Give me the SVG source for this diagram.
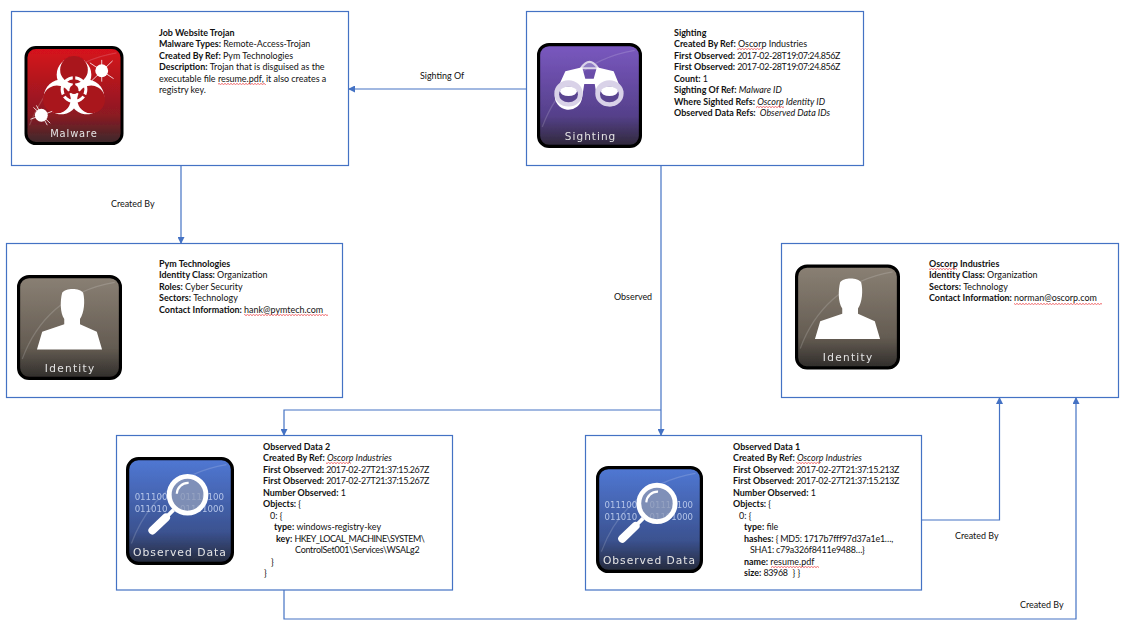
<svg xmlns="http://www.w3.org/2000/svg" width="1130" height="628" viewBox="0 0 1130 628">
<style>
text{font-family:"Lato","Open Sans","Liberation Sans",sans-serif;font-size:8.95px;fill:#111}
.b{font-weight:700}.i{font-style:italic}
.d{letter-spacing:-.38px}
.d2{letter-spacing:-.25px}
.box{fill:#fff;stroke:#4472c4;stroke-width:1.2}
.c{fill:none;stroke:#4472c4;stroke-width:1.2}
.w{fill:#fff}
.ic{filter:url(#soft)}
.sw{fill:none;stroke:#fff;stroke-opacity:.16;stroke-width:1.200}
text.lab{font-family:"DejaVu Sans",sans-serif;font-size:10px;fill:#e4e4e4;text-anchor:middle}
text.bin{font-family:"DejaVu Sans",sans-serif;font-size:8px;fill:#b4c4e8}
.sq{fill:url(#sq)}
</style>
<defs>
<filter id="soft" x="-5%" y="-5%" width="110%" height="110%"><feGaussianBlur stdDeviation=".4"/></filter>
<marker id="a" markerWidth="7" markerHeight="7" refX="6" refY="3.5" orient="auto" markerUnits="userSpaceOnUse"><path d="M0 0L7 3.5L0 7z" fill="#4472c4"/></marker>
<pattern id="sq" width="3" height="2" patternUnits="userSpaceOnUse"><path d="M0 1.6L1.5 .4L3 1.6" fill="none" stroke="#e8282c" stroke-width=".7"/></pattern>
<linearGradient id="gM" x1="0" y1="0" x2="0" y2="1"><stop offset="0" stop-color="#d8111c"/><stop offset=".7" stop-color="#8c1a22"/><stop offset="1" stop-color="#3a2a2c"/></linearGradient>
<linearGradient id="gS" x1="0" y1="0" x2="0" y2="1"><stop offset="0" stop-color="#7a58c0"/><stop offset=".7" stop-color="#55408a"/><stop offset="1" stop-color="#2e2838"/></linearGradient>
<linearGradient id="gI" x1="0" y1="0" x2="0" y2="1"><stop offset="0" stop-color="#8a8074"/><stop offset=".7" stop-color="#645c52"/><stop offset="1" stop-color="#2f2c2a"/></linearGradient>
<linearGradient id="gO" x1="0" y1="0" x2="0" y2="1"><stop offset="0" stop-color="#5078d4"/><stop offset=".7" stop-color="#3b5290"/><stop offset="1" stop-color="#25293a"/></linearGradient>
<circle id="outer" cx="50" cy="29" r="17.500" fill="#fff"/>
<circle id="inner" cx="50" cy="24" r="14" fill="#a9141e"/>
<symbol id="iM" viewBox="0 0 100 100">
<rect x="1.500" y="1.500" width="97" height="97" rx="10" fill="url(#gM)" stroke="#000" stroke-width="3"/>
<path class="sw" d="M5 80C18 45 45 15 93 7"/>
<use href="#outer"/>
<use href="#outer" transform="rotate(120 50 44)"/>
<use href="#outer" transform="rotate(240 50 44)"/>
<use href="#inner"/>
<use href="#inner" transform="rotate(120 50 44)"/>
<use href="#inner" transform="rotate(240 50 44)"/>
<circle cx="50" cy="44" r="12" fill="none" stroke="#fff" stroke-width="3"/>
<path d="M50 44V28M50 44L36 52M50 44L64 52" stroke="#a9141e" stroke-width="2.500"/>
<circle cx="50" cy="44" r="4.500" fill="#a9141e"/>
<circle cx="78" cy="25" r="6.500" class="w"/><path d="M66 17L90 33M89 15L68 35M78 14V36" stroke="#fff" stroke-width=".8"/>
<circle cx="17" cy="70" r="6.500" class="w"/><path d="M6 74L28 66M12 60L23 80M9 62L26 78" stroke="#fff" stroke-width=".8"/>
<text x="49.500" y="92" class="lab" textLength="47">Malware</text>
</symbol>
<symbol id="iS" viewBox="0 0 100 100">
<rect x="1.500" y="1.500" width="97" height="97" rx="10" fill="url(#gS)" stroke="#000" stroke-width="3"/>
<path class="sw" d="M5 80C18 45 45 15 93 7"/>
<path d="M42 24Q50 12 58 24z" fill="#8f7cc4" stroke="#d9d2e8" stroke-width="2"/>
<path d="M27 27L43 23L46 34H54L57 23L73 27L82 49A13 13 0 0 1 57 52L55 39H45L43 52A13 13 0 0 1 17 49z" class="w"/>
<ellipse cx="30" cy="48" rx="13.500" ry="12.500" fill="#d9d2e8"/><ellipse cx="69" cy="48" rx="13.500" ry="12.500" fill="#d9d2e8"/>
<ellipse cx="30" cy="49" rx="9" ry="7.500" fill="#5a4490"/><ellipse cx="69" cy="49" rx="9" ry="7.500" fill="#5a4490"/>
<ellipse cx="30" cy="46" rx="8" ry="4.500" class="w"/><ellipse cx="69" cy="46" rx="8" ry="4.500" class="w"/>
<text x="50.500" y="92" class="lab" textLength="48">Sighting</text>
</symbol>
<symbol id="iI" viewBox="0 0 100 100">
<rect x="1.500" y="1.500" width="97" height="97" rx="10" fill="url(#gI)" stroke="#000" stroke-width="3"/>
<path class="sw" d="M5 80C18 45 45 15 93 7"/>
<path d="M43 17C46 12 60 12 63 17C65 25 64 36 60 42L60 47L76 54L81 71H19L24 54L45 47L45 42C41 36 41 25 43 17z" class="w"/>
<text x="50" y="92" class="lab" textLength="47">Identity</text>
</symbol>
<symbol id="iO" viewBox="0 0 100 100">
<rect x="1.500" y="1.500" width="97" height="97" rx="10" fill="url(#gO)" stroke="#000" stroke-width="3"/>
<path class="sw" d="M5 80C18 45 45 15 93 7"/>
<text x="8" y="39.500" class="bin">011100</text><text x="50" y="39.500" class="bin">01110100</text>
<text x="8" y="50.500" class="bin">011010</text><text x="50" y="50.500" class="bin">01101000</text>
<path d="M44 49L36 57" stroke="#fff" stroke-width="3.500"/>
<path d="M37 56L24.500 68" stroke="#fff" stroke-width="7.500" stroke-linecap="round"/>
<circle cx="57" cy="35" r="17" fill="#8d9ab8" fill-opacity=".8" stroke="#fff" stroke-width="4.500"/>
<path d="M47 34A10.500 10.500 0 0 1 58 24" fill="none" stroke="#fff" stroke-width="2"/>
<text x="49.500" y="92" class="lab" textLength="86">Observed Data</text>
</symbol>
</defs>
<g id="connectors">
<path class="c" marker-end="url(#a)" d="M526 89H349"/>
<path class="c" marker-end="url(#a)" d="M181 166V243"/>
<path class="c" marker-end="url(#a)" d="M661 166V435"/>
<path class="c" marker-end="url(#a)" d="M661 410H284V435"/>
<path class="c" marker-end="url(#a)" d="M922 520H999.500V398"/>
<path class="c" marker-end="url(#a)" d="M284 590V619H1076V398"/>
<text x="420" y="79">Sighting Of</text>
<text x="111" y="207">Created By</text>
<text x="614" y="300">Observed</text>
<text x="955" y="539">Created By</text>
<text x="1020" y="608">Created By</text>
</g>
<g id="malware">
<rect class="box" x="11.500" y="11.500" width="337" height="154"/>
<use class="ic" href="#iM" x="24" y="46" width="100" height="99"/>
<text x="159" y="36" class="b">Job Website Trojan</text>
<text x="159" y="47"><tspan class="b">Malware Types: </tspan>Remote-Access-Trojan</text>
<text x="159" y="59"><tspan class="b">Created By Ref: </tspan>Pym Technologies</text>
<text x="159" y="70"><tspan class="b">Description: </tspan>Trojan that is disguised as the</text>
<text x="159" y="82">executable file resume.pdf, it also creates a</text>
<text x="159" y="93">registry key.</text>
<rect class="sq" x="218" y="83" width="48" height="2"/>
</g>
<g id="sighting">
<rect class="box" x="526.500" y="11.500" width="337" height="154"/>
<use class="ic" href="#iS" x="537" y="43" width="105" height="105"/>
<text x="674" y="36" class="b">Sighting</text>
<text x="674" y="47"><tspan class="b">Created By Ref: </tspan>Oscorp Industries</text>
<text x="674" y="59"><tspan class="b">First Observed: </tspan><tspan class="d">2017-02-28T19:07:24.856Z</tspan></text>
<text x="674" y="70"><tspan class="b">First Observed: </tspan><tspan class="d">2017-02-28T19:07:24.856Z</tspan></text>
<text x="674" y="82"><tspan class="b">Count: </tspan>1</text>
<text x="674" y="93"><tspan class="b">Sighting Of Ref: </tspan><tspan class="i">Malware ID</tspan></text>
<text x="674" y="105"><tspan class="b">Where Sighted Refs: </tspan><tspan class="i">Oscorp Identity ID</tspan></text>
<text x="674" y="116"><tspan class="b">Observed Data Refs: </tspan> <tspan class="i" dx="2">Observed Data IDs</tspan></text>
<rect class="sq" x="737" y="48" width="25" height="2"/>
<rect class="sq" x="756" y="106" width="28" height="2"/>
</g>
<g id="pym">
<rect class="box" x="6.500" y="243.500" width="336" height="154"/>
<use class="ic" href="#iI" x="17" y="275" width="105" height="105"/>
<text x="159" y="267" class="b">Pym Technologies</text>
<text x="159" y="278"><tspan class="b">Identity Class: </tspan>Organization</text>
<text x="159" y="290"><tspan class="b">Roles: </tspan>Cyber Security</text>
<text x="159" y="301"><tspan class="b">Sectors: </tspan>Technology</text>
<text x="159" y="313"><tspan class="b">Contact Information: </tspan>hank@pymtech.com</text>
<rect class="sq" x="244" y="314" width="84" height="2"/>
</g>
<g id="oscorp">
<rect class="box" x="781.500" y="243.500" width="337" height="154"/>
<use class="ic" href="#iI" x="795" y="264" width="105" height="106"/>
<text x="929" y="267" class="b">Oscorp Industries</text>
<text x="929" y="278"><tspan class="b">Identity Class: </tspan>Organization</text>
<text x="929" y="290"><tspan class="b">Sectors: </tspan>Technology</text>
<text x="929" y="301"><tspan class="b">Contact Information: </tspan>norman@oscorp.com</text>
<rect class="sq" x="929" y="268" width="28" height="2"/>
<rect class="sq" x="1014" y="303" width="88" height="2"/>
</g>
<g id="observed2">
<rect class="box" x="116.500" y="435.500" width="336" height="154.500"/>
<use class="ic" href="#iO" x="126" y="457" width="108" height="108"/>
<text x="263" y="450" class="b">Observed Data 2</text>
<text x="263" y="461"><tspan class="b">Created By Ref: </tspan><tspan class="i">Oscorp Industries</tspan></text>
<text x="263" y="473"><tspan class="b">First Observed: </tspan><tspan class="d">2017-02-27T21:37:15.267Z</tspan></text>
<text x="263" y="484"><tspan class="b">First Observed: </tspan><tspan class="d">2017-02-27T21:37:15.267Z</tspan></text>
<text x="263" y="496"><tspan class="b">Number Observed: </tspan>1</text>
<text x="263" y="507"><tspan class="b">Objects: </tspan>{</text>
<text x="270" y="519">0: {</text>
<text x="274" y="530"><tspan class="b">type: </tspan>windows-registry-key</text>
<text x="276" y="542"><tspan class="b">key: </tspan><tspan style="letter-spacing:-.5px">HKEY_LOCAL_MACHINE\SYSTEM\</tspan></text>
<text x="295" y="553" class="d2">ControlSet001\Services\WSALg2</text>
<text x="271" y="565">}</text>
<text x="264" y="576">}</text>
<rect class="sq" x="326" y="462" width="25" height="2"/>
</g>
<g id="observed1">
<rect class="box" x="585.500" y="435.500" width="336" height="154.500"/>
<use class="ic" href="#iO" x="596" y="466" width="107" height="107"/>
<text x="733" y="450" class="b">Observed Data 1</text>
<text x="733" y="461"><tspan class="b">Created By Ref: </tspan><tspan class="i">Oscorp Industries</tspan></text>
<text x="733" y="473"><tspan class="b">First Observed: </tspan><tspan class="d">2017-02-27T21:37:15.213Z</tspan></text>
<text x="733" y="484"><tspan class="b">First Observed: </tspan><tspan class="d">2017-02-27T21:37:15.213Z</tspan></text>
<text x="733" y="496"><tspan class="b">Number Observed: </tspan>1</text>
<text x="733" y="507"><tspan class="b">Objects: </tspan>{</text>
<text x="739" y="519">0: {</text>
<text x="744" y="530"><tspan class="b">type: </tspan>file</text>
<text x="744" y="542"><tspan class="b">hashes: </tspan><tspan class="d2">{ MD5: 1717b7fff97d37a1e1…,</tspan></text>
<text x="750" y="553" class="d2">SHA1: c79a326f8411e9488…}</text>
<text x="744" y="565"><tspan class="b">name: </tspan>resume.pdf</text>
<text x="744" y="576"><tspan class="b">size: </tspan><tspan class="d">83968</tspan><tspan dx="5">} }</tspan></text>
<rect class="sq" x="771" y="566" width="48" height="2"/>
<rect class="sq" x="796" y="462" width="25" height="2"/>
</g>
</svg>
